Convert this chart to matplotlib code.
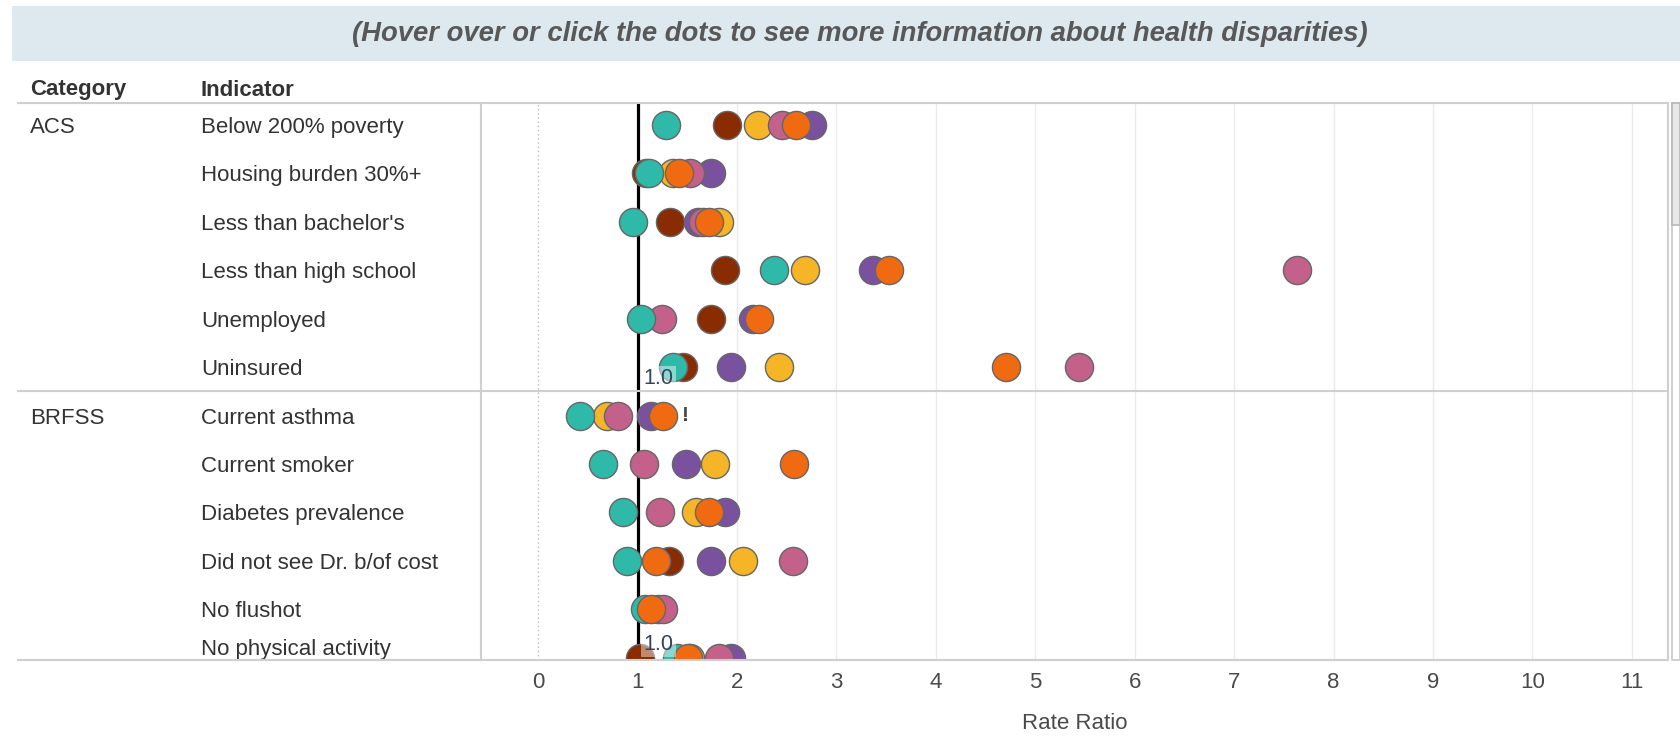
import numpy as np
import matplotlib.pyplot as plt
from matplotlib.lines import Line2D
from matplotlib.patches import Rectangle
from matplotlib.transforms import blended_transform_factory

nan = np.nan

# 数据
categories = ["ACS", "BRFSS"]
indicators = ["Below 200% poverty", "Housing burden 30%+", "Less than bachelor's",
              "Less than high school", "Unemployed", "Uninsured",
              "Current asthma", "Current smoker", "Diabetes prevalence",
              "Did not see Dr. b/of cost", "No flushot", "No physical activity"]
category_rows = [0, 6]

brown = [1.90, 1.08, 1.33, 1.88, 1.74, 1.46, nan, nan, nan, 1.32, nan, 1.02]
yellow = [2.21, 1.36, 1.82, 2.68, nan, 2.42, 0.69, 1.78, 1.59, 2.06, nan, 1.53]
purple = [2.75, 1.74, 1.61, 3.37, 2.16, 1.94, 1.13, 1.49, 1.88, 1.74, 1.20, 1.94]
pink = [2.45, 1.53, 1.66, 7.63, 1.24, 5.44, 0.80, 1.06, 1.22, 2.56, 1.25, 1.82]
teal = [1.29, 1.11, 0.95, 2.37, 1.03, 1.36, 0.42, 0.65, 0.85, 0.89, 1.07, 1.40]
orange = [2.59, 1.42, 1.72, 3.53, 2.22, 4.71, 1.25, 2.57, 1.72, 1.18, 1.13, 1.51]

series = [(brown, '#8a2c02'), (yellow, '#f6b526'), (purple, '#7a519f'),
          (pink, '#c4618a'), (teal, '#2fb9a8'), (orange, '#f06a12')]

x_ticks = list(range(0, 12))
ref_value = 1.0

plt.rcParams['font.family'] = ['Liberation Sans', 'DejaVu Sans']

W, H = 1680, 741
fig = plt.figure(figsize=(W / 100, H / 100), dpi=100)


def fx(px):
    return px / W


def fy(py):
    return 1 - py / H


ax = fig.add_axes([fx(481), fy(660), fx(1668) - fx(481), fy(103) - fy(660)])
ax.set_xlim(-0.576, 11.365)
ax.set_ylim(11.05, -0.455)

# 网格线
for t in x_ticks:
    if t == 0:
        ax.axvline(t, color='#bdbdbd', lw=1, ls=(0, (1, 2)), zorder=0)
    else:
        ax.axvline(t, color='#ebebeb', lw=1, zorder=0)
ax.axvline(ref_value, color='black', lw=2.3, zorder=1)

rows = np.arange(len(indicators))
for vals, col in series:
    ax.scatter(vals, rows, s=410, color=col, edgecolor='#666666', linewidth=1, zorder=3)

ax.text(1.45, 6, '!', fontsize=15, fontweight='bold', color='#444444', va='center', ha='left', zorder=4)

# 参考线标签
for yy in [5.23, 10.73]:
    ax.text(1.06, yy, '1.0', fontsize=15.5, color='#34445e', va='center', ha='left', zorder=5,
            bbox=dict(boxstyle='square,pad=0.1', fc='white', ec='none', alpha=0.45))

ax.set_xticks(x_ticks)
ax.set_xticklabels([str(t) for t in x_ticks], fontsize=16, color='#4a4a4a')
ax.tick_params(axis='x', length=0, pad=9)
ax.set_yticks([])
for s in ['top', 'bottom']:
    ax.spines[s].set_visible(False)
for s in ['left', 'right']:
    ax.spines[s].set_color('#cfcfcf')
    ax.spines[s].set_linewidth(1.5)
ax.set_xlabel('Rate Ratio', fontsize=16, color='#4a4a4a', labelpad=14)

# 表格线
trans = blended_transform_factory(fig.transFigure, ax.transData)
for yy in [-0.455, 5.5, 11.05]:
    fig.add_artist(Line2D([fx(18), fx(1668)], [yy, yy], transform=trans, color='#cfcfcf', lw=1.5))

# 左侧标签
for i, lab in enumerate(indicators):
    ax.text(fx(201), min(i, 10.79), lab, transform=trans, fontsize=16, color='#333333', va='center_baseline')
for r, cat in zip(category_rows, categories):
    ax.text(fx(30), r, cat, transform=trans, fontsize=16, color='#333333', va='center_baseline')

fig.text(fx(30), fy(90), 'Category', fontsize=16, fontweight='bold', color='#333333', va='center')
fig.text(fx(201), fy(90), 'Indicator', fontsize=16, fontweight='bold', color='#333333', va='center')

# 顶部横幅
fig.add_artist(Rectangle((fx(12), fy(61)), fx(1680) - fx(12), fy(6) - fy(61), transform=fig.transFigure,
                         fc='#dde9ef', ec='none', zorder=0))
fig.text(fx(860), fy(34), '(Hover over or click the dots to see more information about health disparities)',
         fontsize=19.8, fontweight='bold', fontstyle='italic', color='#585858', ha='center', va='center')

# 滚动条
fig.add_artist(Rectangle((fx(1672), fy(660)), fx(1680) - fx(1672), fy(103) - fy(660), transform=fig.transFigure,
                         fc='white', ec='#c8c8c8', lw=1.2))
fig.add_artist(Rectangle((fx(1672), fy(225)), fx(1680) - fx(1672), fy(103) - fy(225), transform=fig.transFigure,
                         fc='#e8e8e8', ec='#b8b8b8', lw=1.2))

plt.savefig('out.png', dpi=100)
